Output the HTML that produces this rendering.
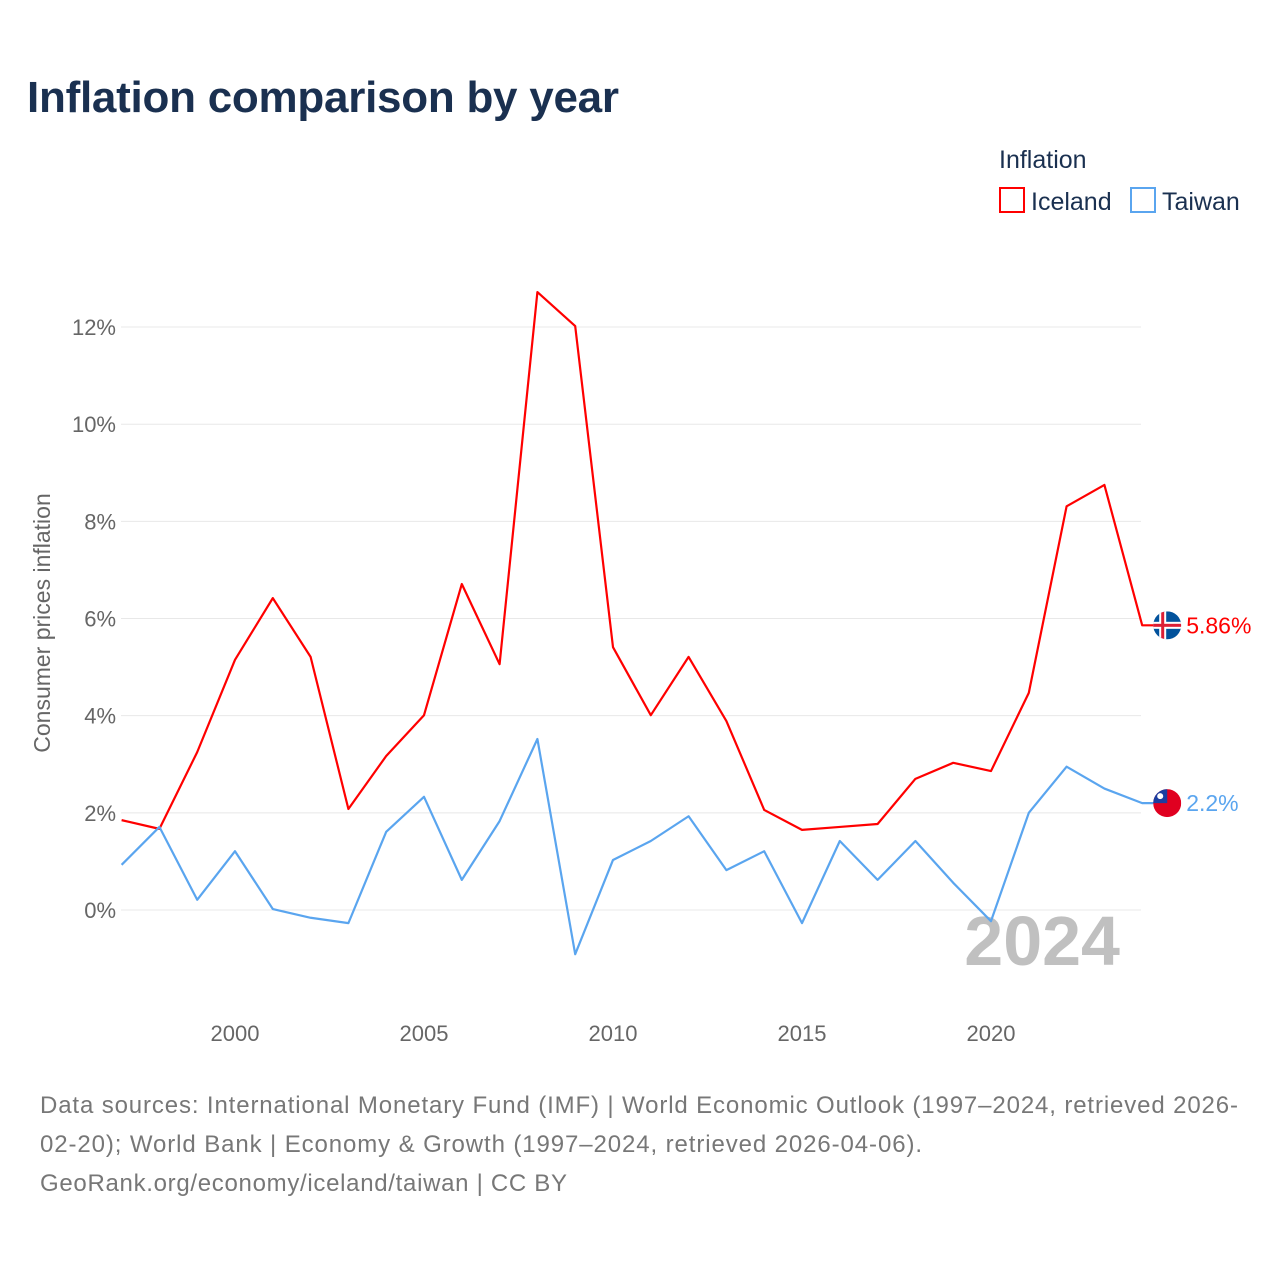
<!DOCTYPE html>
<html><head><meta charset="utf-8"><style>
body{margin:0;background:#fff;font-family:"Liberation Sans",sans-serif}
svg text{font-family:"Liberation Sans",sans-serif}
</style></head><body>
<svg id="chart" width="1280" height="1280" xmlns="http://www.w3.org/2000/svg">
<defs><clipPath id="c1"><circle cx="0" cy="0" r="14"/></clipPath></defs>
<text x="27" y="112" font-size="44" font-weight="bold" fill="#1a3050" textLength="592">Inflation comparison by year</text>
<text x="999" y="168" font-size="25" fill="#1a3050">Inflation</text>
<g><rect x="1000" y="188" width="24" height="24" fill="none" stroke="#ff0000" stroke-width="2"/><text x="1031" y="210" font-size="25" fill="#1a3050">Iceland</text></g>
<g><rect x="1131" y="188" width="24" height="24" fill="none" stroke="#5aa5ef" stroke-width="2"/><text x="1162" y="210" font-size="25" fill="#1a3050">Taiwan</text></g>
<g id="grid"></g><g id="yticks"></g><g id="xticks"></g>
<text transform="translate(50,623) rotate(-90)" text-anchor="middle" font-size="23" fill="#666">Consumer prices inflation</text>
<text x="1120" y="965" text-anchor="end" font-size="70" font-weight="bold" fill="#c0c0c0">2024</text>
<g id="series"></g>
<text x="40" y="1113" font-size="24" fill="#777" textLength="1198">Data sources: International Monetary Fund (IMF) | World Economic Outlook (1997–2024, retrieved 2026-</text>
<text x="40" y="1152" font-size="24" fill="#777" textLength="882">02-20); World Bank | Economy &amp; Growth (1997–2024, retrieved 2026-04-06).</text>
<text x="40" y="1191" font-size="24" fill="#777" textLength="527">GeoRank.org/economy/iceland/taiwan | CC BY</text>
</svg>
<script>
const years=[1997,1998,1999,2000,2001,2002,2003,2004,2005,2006,2007,2008,2009,2010,2011,2012,2013,2014,2015,2016,2017,2018,2019,2020,2021,2022,2023,2024];
const iceland=[1.85,1.67,3.25,5.15,6.42,5.21,2.08,3.17,4.01,6.71,5.06,12.72,12.02,5.41,4.01,5.21,3.89,2.06,1.65,1.71,1.77,2.70,3.03,2.86,4.47,8.31,8.75,5.86];
const taiwan=[0.93,1.71,0.21,1.21,0.02,-0.16,-0.27,1.61,2.33,0.62,1.83,3.52,-0.91,1.03,1.42,1.93,0.82,1.21,-0.27,1.42,0.62,1.42,0.56,-0.23,2.0,2.95,2.5,2.2];
const yTicks=[0,2,4,6,8,10,12];
const xTicks=[2000,2005,2010,2015,2020];
const NS="http://www.w3.org/2000/svg";
const x=v=>121.6+(v-1997)*37.8;
const y=v=>910-v*48.58;
function mk(tag,attrs,parent,txt){const e=document.createElementNS(NS,tag);for(const k in attrs)e.setAttribute(k,attrs[k]);if(txt!==undefined)e.textContent=txt;(typeof parent==='string'?document.getElementById(parent):parent).appendChild(e);return e;}
yTicks.forEach(t=>{
 const l=mk('line',{x1:121,x2:1141,y1:y(t),y2:y(t),stroke:'#e8e8e8','stroke-width':1},'grid');
 
 
 const tx=mk('text',{x:116,y:y(t)+8,'text-anchor':'end','font-size':22,fill:'#666'},'yticks',t+'%');
 
 
});
xTicks.forEach(t=>{
 const tx=mk('text',{x:x(t),y:1041,'text-anchor':'middle','font-size':22,fill:'#666'},'xticks',String(t));
 
 
});
function series(vals,color,name){
 const last=vals[vals.length-1];
 const pts=vals.map((v,i)=>x(years[i])+','+y(v)).join(' ')+' '+(x(2024)+12)+','+y(last);
 const p=mk('polyline',{points:pts,fill:'none',stroke:color,'stroke-width':2.2,'stroke-linejoin':'round'},'series');
 
 
 const g=mk('g',{transform:'translate('+(x(2024)+25)+','+y(last)+')','clip-path':'url(#c1)'},'series');
 
 
 if(name==='iceland'){
  mk('rect',{x:-14,y:-14,width:28,height:28,fill:'#02529c'},g);
  mk('rect',{x:-8,y:-14,width:7,height:28,fill:'#fff'},g);
  mk('rect',{x:-14,y:-3.5,width:28,height:7,fill:'#fff'},g);
  mk('rect',{x:-6,y:-14,width:3,height:28,fill:'#dc1e35'},g);
  mk('rect',{x:-14,y:-1.5,width:28,height:3,fill:'#dc1e35'},g);
 } else {
  mk('rect',{x:-14,y:-14,width:28,height:28,fill:'#e00020'},g);
  mk('rect',{x:-14,y:-14,width:14,height:14,fill:'#1b3ea0'},g);
  mk('circle',{cx:-7,cy:-7,r:3,fill:'#fff'},g);
 }
 const tl=mk('text',{x:x(2024)+44,y:y(last)+8,'font-size':23,fill:color},'series',(name==='iceland'?last.toFixed(2):last.toFixed(1))+'%');
 
 
}
series(iceland,'#ff0000','iceland');
series(taiwan,'#5aa5ef','taiwan');
</script>
</body></html>
